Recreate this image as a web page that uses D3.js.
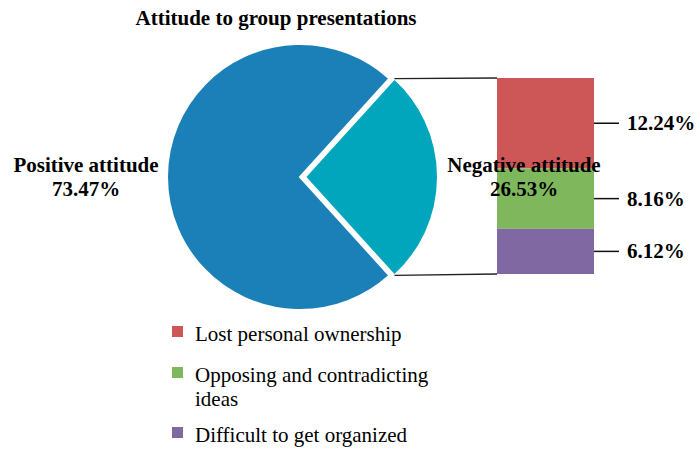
<!DOCTYPE html>
<html>
<head>
<meta charset="utf-8">
<script src="https://cdn.jsdelivr.net/npm/d3@7"></script>
<style>
  body { margin: 0; background: #fff; }
  svg { display: block; font-family: "Liberation Serif", "Times New Roman", serif; }
</style>
</head>
<body>
<svg id="chart"></svg>
<script>
// pie part
const pieNames = ["Positive attitude", "Negative attitude"];
const pieValues = [73.47, 26.53];
const pieColors = ["#1b80b7", "#02a6bc"];

// breakdown of the negative slice
const barNames = ["Lost personal ownership", "Opposing and contradicting ideas", "Difficult to get organized"];
const barValues = [12.24, 8.16, 6.12];
const barColors = ["#cd5656", "#7fb75d", "#8068a2"];

const width = 698, height = 449;
const svg = d3.select("#chart")
    .attr("width", width)
    .attr("height", height)
    .attr("viewBox", [0, 0, width, height]);

svg.append("text")
    .attr("x", 276)
    .attr("y", 25)
    .attr("text-anchor", "middle")
    .style("font-size", "21px")
    .style("font-weight", "bold")
    .text("Attitude to group presentations");

const cx = 300, cy = 177, r = 133, explode = 5;
const span = pieValues[1] / d3.sum(pieValues) * 2 * Math.PI;
const start = Math.PI / 2 + span / 2;

const pie = d3.pie().sort(null).startAngle(start).endAngle(start + 2 * Math.PI);
const arcs = pie(pieValues);
const arc = d3.arc().innerRadius(0).outerRadius(r);

const pieG = svg.append("g").attr("transform", `translate(${cx},${cy})`);
pieG.selectAll("path")
    .data(arcs)
    .join("path")
    .attr("transform", (d, i) => {
        if (i === 0) return null;
        const mid = (d.startAngle + d.endAngle) / 2;
        return `translate(${explode * Math.sin(mid)},${-explode * Math.cos(mid)})`;
    })
    .attr("d", arc)
    .attr("fill", (d, i) => pieColors[i])
    .attr("stroke", "#fff")
    .attr("stroke-width", 2);

// stacked bar
const barX0 = 497, barX1 = 594;
const y = d3.scaleLinear()
    .domain([0, d3.sum(barValues)])
    .range([78, 274]);

const stacked = [];
let acc = 0;
barValues.forEach((v, i) => { stacked.push({name: barNames[i], v, y0: acc, y1: acc + v, color: barColors[i]}); acc += v; });

svg.append("g")
    .selectAll("rect")
    .data(stacked)
    .join("rect")
    .attr("x", barX0)
    .attr("y", d => y(d.y0))
    .attr("width", barX1 - barX0)
    .attr("height", d => y(d.y1) - y(d.y0))
    .attr("fill", d => d.color);

// connector lines from the slice edges to the bar
const neg = arcs[1];
const negMid = (neg.startAngle + neg.endAngle) / 2;
const ox = cx + explode * Math.sin(negMid), oy = cy - explode * Math.cos(negMid);
const edge = a => [ox + r * Math.sin(a), oy - r * Math.cos(a)];
const topEdge = edge(neg.endAngle), botEdge = edge(neg.startAngle);
const tEnd = topEdge[1] < botEdge[1] ? topEdge : botEdge;
const bEnd = topEdge[1] < botEdge[1] ? botEdge : topEdge;

svg.append("g")
    .attr("stroke", "#222")
    .attr("stroke-width", 1.3)
    .selectAll("line")
    .data([[tEnd, [barX0, y(0)]], [bEnd, [barX0, y(d3.sum(barValues))]]])
    .join("line")
    .attr("x1", d => d[0][0])
    .attr("y1", d => d[0][1])
    .attr("x2", d => d[1][0])
    .attr("y2", d => d[1][1]);

// value labels for the bar
const vl = svg.append("g").selectAll("g").data(stacked).join("g");
vl.append("line")
    .attr("x1", barX1)
    .attr("x2", barX1 + 25)
    .attr("y1", d => y((d.y0 + d.y1) / 2))
    .attr("y2", d => y((d.y0 + d.y1) / 2))
    .attr("stroke", "#111")
    .attr("stroke-width", 1.5);
vl.append("text")
    .attr("x", barX1 + 33)
    .attr("y", d => y((d.y0 + d.y1) / 2) + 7)
    .style("font-size", "21px")
    .style("font-weight", "bold")
    .text(d => d3.format(".2f")(d.v) + "%");

// pie labels
const pieLabelPos = [[86, 172], [524, 172]];
const pl = svg.append("g")
    .selectAll("text")
    .data(pieNames)
    .join("text")
    .attr("text-anchor", "middle")
    .style("font-size", "21px")
    .style("font-weight", "bold")
    .attr("x", (d, i) => pieLabelPos[i][0])
    .attr("y", (d, i) => pieLabelPos[i][1]);
pl.append("tspan").text(d => d);
pl.append("tspan")
    .attr("x", (d, i) => pieLabelPos[i][0])
    .attr("dy", 24)
    .text((d, i) => d3.format(".2f")(pieValues[i]) + "%");

// legend
const legendRows = [[barNames[0]], ["Opposing and contradicting", "ideas"], [barNames[2]]];
const legendY = [341, 382, 442];
const lg = svg.append("g")
    .selectAll("g")
    .data(stacked)
    .join("g")
    .attr("transform", (d, i) => `translate(172,${legendY[i]})`);
lg.append("rect")
    .attr("x", 0)
    .attr("y", -15)
    .attr("width", 11)
    .attr("height", 11)
    .attr("fill", d => d.color);
lg.append("text")
    .attr("x", 23)
    .style("font-size", "21px")
    .selectAll("tspan")
    .data((d, i) => legendRows[i])
    .join("tspan")
    .attr("x", 23)
    .attr("dy", (d, j) => j === 0 ? 0 : 24)
    .text(d => d);
</script>
</body>
</html>
